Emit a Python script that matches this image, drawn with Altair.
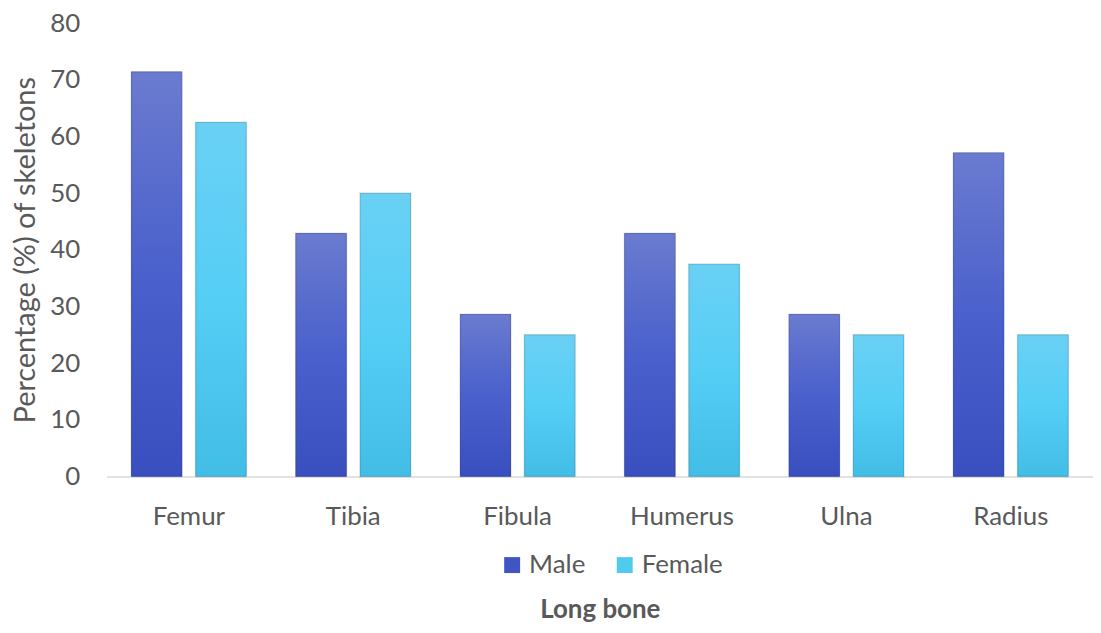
import altair as alt
import pandas as pd

bones = ["Femur", "Tibia", "Fibula", "Humerus", "Ulna", "Radius"]
male = [71.4, 42.9, 28.6, 42.9, 28.6, 57.1]
female = [62.5, 50.0, 25.0, 37.5, 25.0, 25.0]
sexes = ["Male", "Female"]

rows = []
for b, m, f in zip(bones, male, female):
    rows.append({"bone": b, "sex": "Male", "value": m})
    rows.append({"bone": b, "sex": "Female", "value": f})
df = pd.DataFrame(rows)

FONT = "Lato"
GRAY = "#595959"

x = alt.X("bone:N", sort=bones,
          scale=alt.Scale(paddingInner=0.3, paddingOuter=0.15),
          axis=alt.Axis(title="Long bone", labelAngle=0, ticks=False,
                        domainColor="#d9d9d9", domainWidth=1.5,
                        labelFont=FONT, labelFontSize=26, labelColor=GRAY,
                        labelBaseline="alphabetic", labelPadding=48,
                        titleFont=FONT, titleFontSize=26, titleColor=GRAY,
                        titleFontWeight="bold", titleBaseline="alphabetic",
                        titleY=142))
xo = alt.XOffset("sex:N", sort=sexes, scale=alt.Scale(domain=sexes, paddingInner=0.21))
y = alt.Y("value:Q", scale=alt.Scale(domain=[0, 80], nice=False),
          axis=alt.Axis(title="Percentage (%) of skeletons", values=list(range(0, 81, 10)),
                        grid=False, domain=False, ticks=False,
                        labelFont=FONT, labelFontSize=26, labelColor=GRAY,
                        labelPadding=27,
                        titleFont=FONT, titleFontSize=29, titleColor=GRAY,
                        titleFontWeight="normal", titleBaseline="alphabetic",
                        titleX=-72))

base = alt.Chart(df)

legend_layer = base.mark_bar().encode(
    x=x, xOffset=xo, y=y,
    color=alt.Color("sex:N", sort=sexes,
                    scale=alt.Scale(domain=sexes, range=["#3f55c4", "#4fcbf0"]),
                    legend=alt.Legend(title=None, orient="none", direction="horizontal",
                                      legendX=394, legendY=531,
                                      symbolType="square", symbolSize=256,
                                      symbolStrokeWidth=0,
                                      labelFont=FONT, labelFontSize=26, labelColor=GRAY,
                                      columnPadding=26, labelOffset=4)),
)

male_grad = alt.Gradient(gradient="linear", x1=0, x2=0, y1=1, y2=0,
                         stops=[alt.GradientStop(color="#3a4fbf", offset=0),
                                alt.GradientStop(color="#4a60cc", offset=0.5),
                                alt.GradientStop(color="#6a7bcf", offset=1)])
female_grad = alt.Gradient(gradient="linear", x1=0, x2=0, y1=1, y2=0,
                           stops=[alt.GradientStop(color="#42bde6", offset=0),
                                  alt.GradientStop(color="#55cef6", offset=0.5),
                                  alt.GradientStop(color="#6ad0f4", offset=1)])

male_layer = base.transform_filter(alt.datum.sex == "Male").mark_bar(
    color=male_grad, stroke="#000000", strokeOpacity=0.12, strokeWidth=1.5
).encode(x=x, xOffset=xo, y=y)
female_layer = base.transform_filter(alt.datum.sex == "Female").mark_bar(
    color=female_grad, stroke="#000000", strokeOpacity=0.12, strokeWidth=1.5
).encode(x=x, xOffset=xo, y=y)

chart = alt.layer(legend_layer, male_layer, female_layer).properties(
    width=990, height=455,
    background="white",
    autosize=alt.AutoSizeParams(type="none"),
    padding={"left": 99, "top": 14, "right": 0, "bottom": 148},
).configure_view(stroke=None)

chart.save("out.html", embed_options={"renderer": "svg", "actions": False})
